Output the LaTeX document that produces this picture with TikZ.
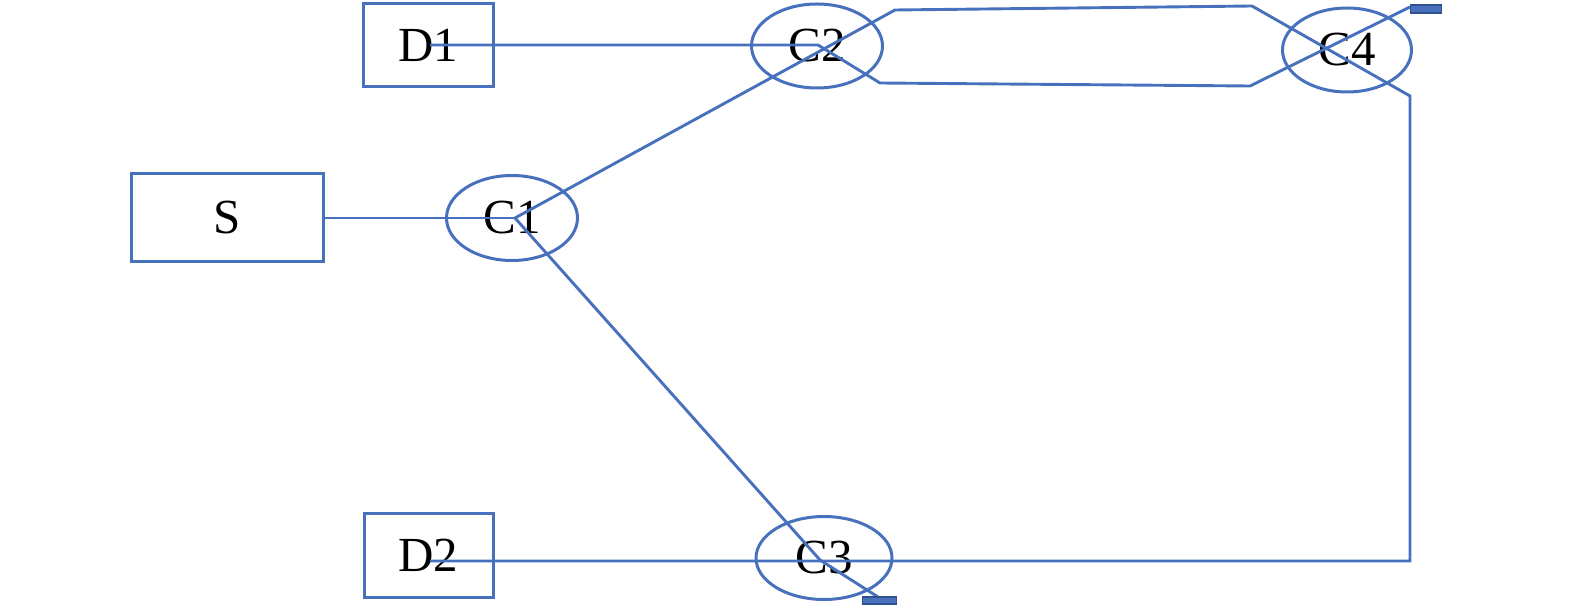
\documentclass[tikz,border=0pt]{standalone}
\usepackage{fontspec}
\setmainfont{Liberation Serif}
\usetikzlibrary{shapes.geometric}
\definecolor{lblue}{HTML}{4770BD}
\definecolor{dblue}{HTML}{2F528F}
\tikzset{
  link/.style={draw=lblue, line width=2.9pt},
  boxnode/.style={draw=lblue, line width=3pt, rectangle, inner sep=0pt, font=\fontsize{49}{58}\selectfont},
  ellnode/.style={draw=lblue, line width=3pt, ellipse, inner sep=0pt, font=\fontsize{49}{58}\selectfont},
  termnode/.style={draw=dblue, fill=lblue, line width=1.5pt, rectangle, inner sep=0pt, minimum width=31pt, minimum height=8pt}
}
\begin{document}
\begin{tikzpicture}[x=1pt,y=-1pt]
\useasboundingbox (0,0) rectangle (1575,609);
% nodes
\node[boxnode, minimum width=192pt, minimum height=88pt] (S) at (227,218) {S};
\node[boxnode, minimum width=130pt, minimum height=83pt] (D1) at (428,45.5) {D1};
\node[boxnode, minimum width=129pt, minimum height=84pt] (D2) at (428.5,555) {D2};
\node[ellnode, minimum width=131pt, minimum height=85pt] (C1) at (512,218) {C1};
\node[ellnode, minimum width=131pt, minimum height=84pt] (C2) at (817,46) {C2};
\node[ellnode, minimum width=136pt, minimum height=83pt] (C3) at (824,558) {C3};
\node[ellnode, minimum width=129pt, minimum height=84pt] (C4) at (1347,50) {C4};
\node[termnode] (T1) at (1426,9) {};
\node[termnode, minimum width=34pt, minimum height=7pt] (T2) at (879.5,600.5) {};
% coordinates
\coordinate (c1o) at (515,218);
\coordinate (c2o) at (818,45);
\coordinate (c3o) at (820,560);
\coordinate (a1) at (895,10);
\coordinate (a2) at (1252,6);
\coordinate (a3) at (1410,96);
\coordinate (a4) at (1410,561);
\coordinate (d2in) at (430,561);
\coordinate (d1in) at (430,45);
\coordinate (b1) at (880,83);
\coordinate (b2) at (1250,86);
\coordinate (b3) at (1410,7);
\coordinate (e1) at (878,597);
% connectors
\draw[link] (S.east |- c1o) -- (c1o);
\draw[link] (c1o) -- (a1) -- (a2) -- (a3) -- (a4) -- (d2in);
\draw[link] (d1in) -- (c2o) -- (b1) -- (b2) -- (b3);
\draw[link] (c1o) -- (c3o) -- (e1);
\node[termnode] at (T1) {};
\node[termnode, minimum width=34pt, minimum height=7pt] at (T2) {};
\end{tikzpicture}
\end{document}
